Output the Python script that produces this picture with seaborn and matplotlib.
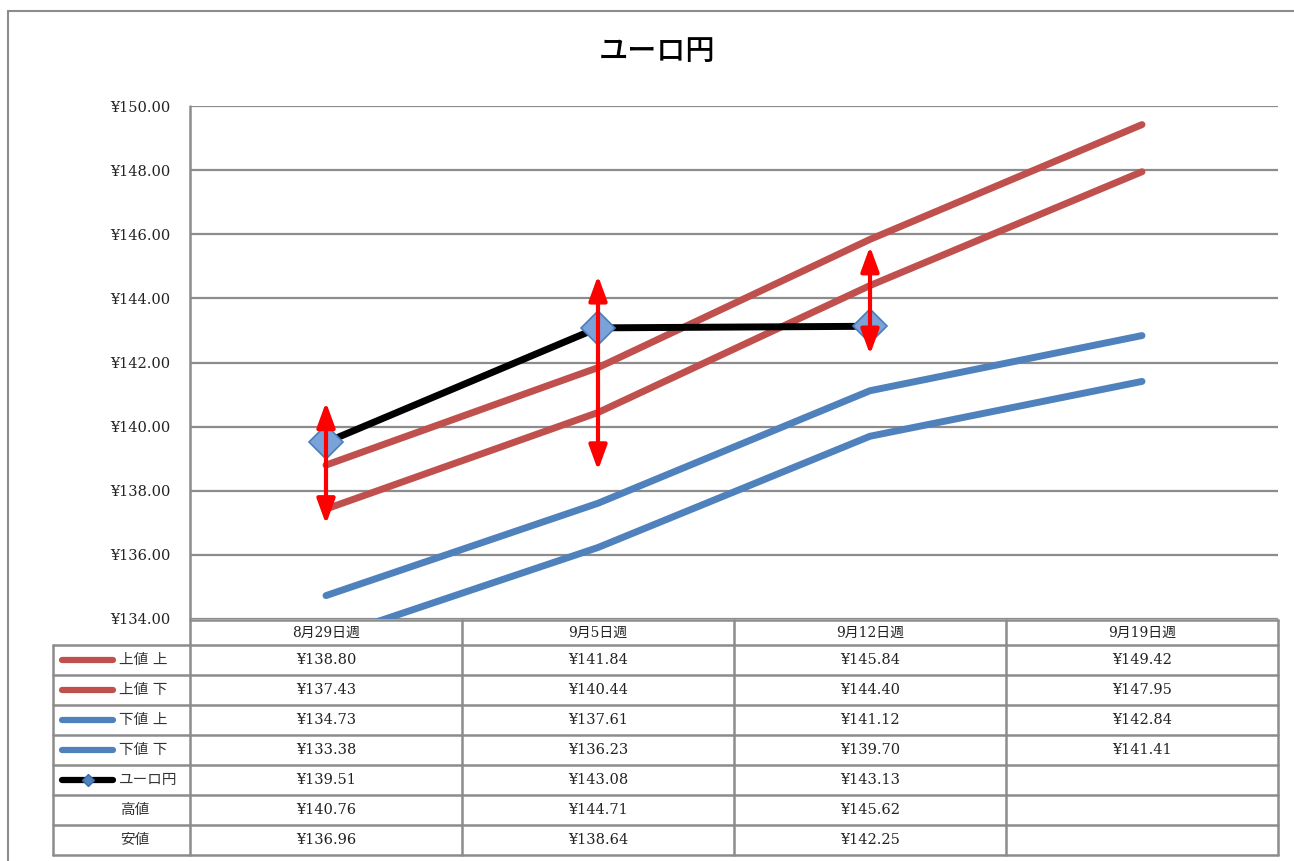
import matplotlib
matplotlib.use("Agg")
import matplotlib.pyplot as plt
from matplotlib.lines import Line2D
import numpy as np
import pandas as pd
import seaborn as sns

sns.set_style("white")
plt.rcParams["font.family"] = ["DejaVu Serif", "Noto Sans CJK JP"]

# ---- data ----
weeks = ["8月29日週", "9月5日週", "9月12日週", "9月19日週"]
upper_hi = [138.80, 141.84, 145.84, 149.42]
upper_lo = [137.43, 140.44, 144.40, 147.95]
lower_hi = [134.73, 137.61, 141.12, 142.84]
lower_lo = [133.38, 136.23, 139.70, 141.41]
eurjpy = [139.51, 143.08, 143.13]
high = [140.76, 144.71, 145.62]
low = [136.96, 138.64, 142.25]

band_names = ["上値 上", "上値 下", "下値 上", "下値 下"]
band_values = [upper_hi, upper_lo, lower_hi, lower_lo]
RED = "#C0504D"
BLUE = "#4F81BD"
band_colors = [RED, RED, BLUE, BLUE]
GRID = "#8C8C8C"

W, H = 1294, 861
fig = plt.figure(figsize=(W / 100, H / 100), dpi=100)


def fx(px):
    return px / W


def fy(py):
    return 1 - py / H


# plot area
left, right, top, bottom = 190, 1278, 106, 619
ax = fig.add_axes([fx(left), fy(bottom), fx(right - left), (bottom - top) / H])

rows = []
for name, vals in zip(band_names, band_values):
    for i, v in enumerate(vals):
        rows.append({"x": i, "value": v, "series": name})
df = pd.DataFrame(rows)

sns.lineplot(data=df, x="x", y="value", hue="series", ax=ax,
             palette=dict(zip(band_names, band_colors)), linewidth=5,
             legend=False, sort=False, solid_capstyle="round",
             solid_joinstyle="round", zorder=2)

df_fx = pd.DataFrame({"x": range(len(eurjpy)), "value": eurjpy})
sns.lineplot(data=df_fx, x="x", y="value", ax=ax, color="black", linewidth=5,
             marker="D", markersize=17, markerfacecolor="#7BA3DA",
             markeredgecolor="#4A7EBB", markeredgewidth=1.2,
             legend=False, solid_capstyle="round", zorder=3)

# weekly high / low range
for i, (h, l) in enumerate(zip(high, low)):
    ax.annotate("", xy=(i, h), xytext=(i, l),
                arrowprops=dict(arrowstyle="<|-|>,head_length=0.6,head_width=0.22",
                                color="#FF0000", lw=3, mutation_scale=25,
                                shrinkA=0, shrinkB=0),
                zorder=5)

ax.set_xlim(-0.5, 3.5)
ax.set_ylim(134, 150)
ax.set_yticks(np.arange(134, 151, 2))
ax.yaxis.set_major_formatter(plt.FuncFormatter(lambda v, p: f"¥{v:.2f}"))
ax.tick_params(axis="y", length=0, pad=14, labelsize=10.5, labelcolor="#222222")
ax.set_xticks([])
ax.set_xlabel("")
ax.set_ylabel("")
ax.grid(axis="y", color=GRID, linewidth=1.6)
ax.grid(axis="x", visible=False)
for s in ax.spines.values():
    s.set_visible(False)
ax.patch.set_alpha(0)


def hline(py, x0, x1, lw=1.8, color=GRID):
    fig.add_artist(Line2D([fx(x0), fx(x1)], [fy(py), fy(py)], color=color,
                          linewidth=lw, transform=fig.transFigure))


def vline(px, y0, y1, lw=1.8, color=GRID):
    fig.add_artist(Line2D([fx(px), fx(px)], [fy(y0), fy(y1)], color=color,
                          linewidth=lw, transform=fig.transFigure))


# outer chart frame
hline(11, 8, W + 5, lw=1.5)
vline(8, 11, H + 5, lw=1.5)

# title
fig.text(fx(657), fy(52), "ユーロ円", ha="center", va="center", fontsize=21,
         family=["Noto Sans CJK JP"], fontweight="medium", color="black")

# ---- data table ----
col_edges = [190, 462, 734, 1006, 1278]
row_edges = [645, 675, 705, 735, 765, 795, 825, 855]
head_top = 620
key_left = 53

vline(190, top, row_edges[-1])
hline(head_top, 190, 1278)
for e in col_edges[1:]:
    vline(e, head_top, row_edges[-1])
vline(key_left, row_edges[0], row_edges[-1])
for r in row_edges:
    hline(r, key_left, 1278)

col_centers = [(a + b) / 2 for a, b in zip(col_edges[:-1], col_edges[1:])]
for c, w in zip(col_centers, weeks):
    fig.text(fx(c), fy((head_top + row_edges[0]) / 2), w, ha="center",
             va="center", fontsize=10, color="#222222")

row_centers = [(a + b) / 2 for a, b in zip(row_edges[:-1], row_edges[1:])]
table_series = band_values + [eurjpy, high, low]
for rc, vals in zip(row_centers, table_series):
    for c, v in zip(col_centers, vals):
        fig.text(fx(c), fy(rc), f"¥{v:.2f}", ha="center", va="center",
                 fontsize=10.5, color="#222222")

# legend keys inside the table
for rc, name, col in zip(row_centers[:4], band_names, band_colors):
    fig.add_artist(Line2D([fx(62), fx(113)], [fy(rc), fy(rc)], color=col,
                          linewidth=4.5, solid_capstyle="round",
                          transform=fig.transFigure))
    fig.text(fx(119), fy(rc), name, ha="left", va="center", fontsize=10.5,
             color="#333333")

rc = row_centers[4]
fig.add_artist(Line2D([fx(62), fx(113)], [fy(rc), fy(rc)], color="black",
                      linewidth=4.5, solid_capstyle="round",
                      transform=fig.transFigure))
fig.add_artist(Line2D([fx(87.5)], [fy(rc)], marker="D", markersize=6,
                      markerfacecolor="#4F81BD", markeredgecolor="#3A6AA8",
                      transform=fig.transFigure))
fig.text(fx(119), fy(rc), "ユーロ円", ha="left", va="center", fontsize=10.5,
         color="#333333")

for rc, name in zip(row_centers[5:], ["高値", "安値"]):
    fig.text(fx(135), fy(rc), name, ha="center", va="center", fontsize=10.5,
             color="#333333")

fig.savefig("out.png", dpi=100, facecolor="white")
